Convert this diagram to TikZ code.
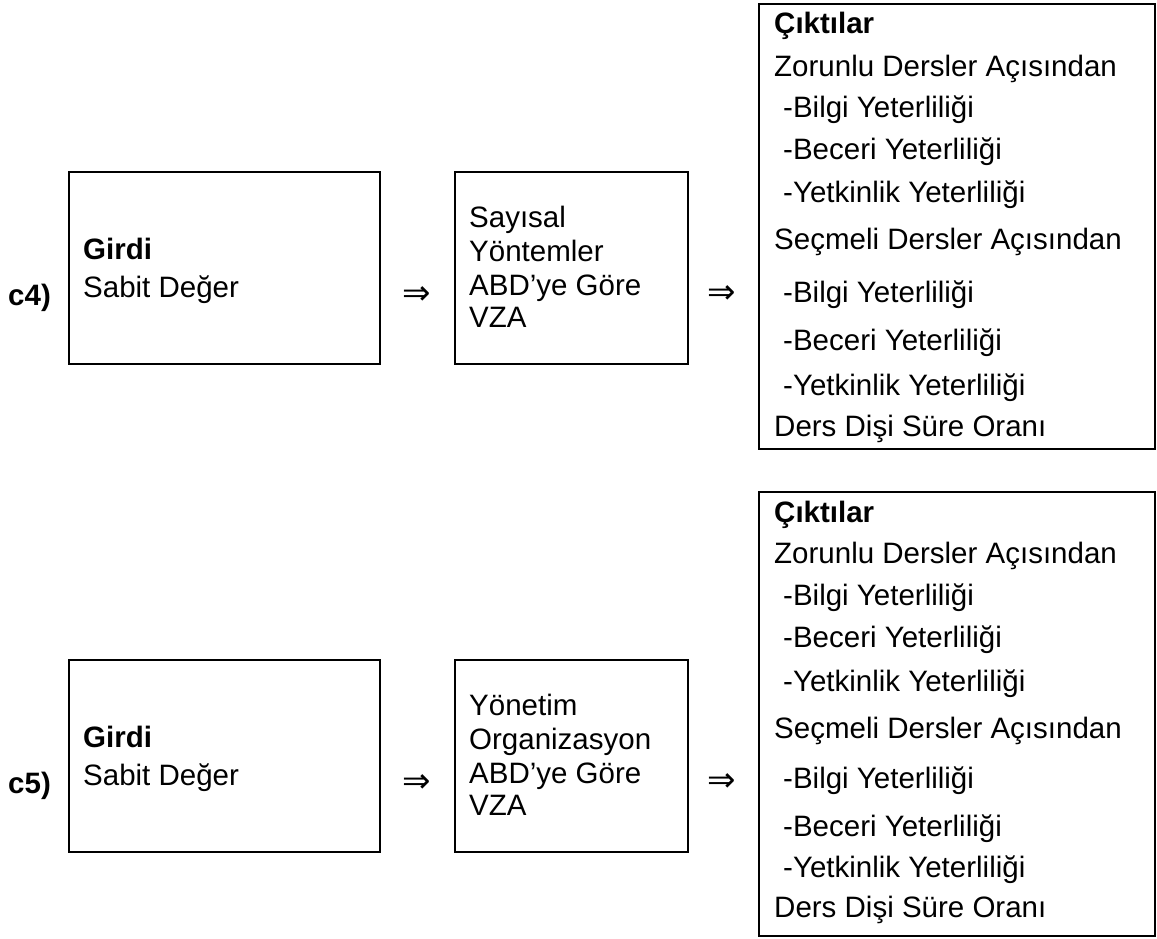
\documentclass[tikz,border=0pt]{standalone}
\usepackage{fontspec}
\setmainfont{Liberation Sans}
\newfontfamily\arrowfont{DejaVu Sans}
\begin{document}
\begin{tikzpicture}[x=1pt,y=-1pt,
  box/.style={draw, line width=2.2pt, inner sep=0pt, anchor=north west},
  txt/.style={anchor=base west, inner sep=0pt, font=\fontsize{29.5}{33}\selectfont},
  arr/.style={anchor=center, inner sep=0pt, font=\arrowfont\fontsize{34}{36}\selectfont}]
\useasboundingbox (0,0) rectangle (1157,938);

% ---------- c4 ----------
\node[box, minimum width=311pt, minimum height=192pt] (in4) at (68,171) {};
\node[txt] (c4) at (8,305) {\bfseries c4)};
\node[txt] (in4a) at (83,259) {\bfseries Girdi};
\node[txt] (in4b) at (83,297) {Sabit Değer};
\node[arr] (ar4a) at (417,296) {⇒};
\node[box, minimum width=233pt, minimum height=192pt] (mid4) at (454,171) {};
\node[txt] (mid4a) at (469,227) {Sayısal};
\node[txt] (mid4b) at (469,261) {Yöntemler};
\node[txt] (mid4c) at (469,295) {ABD’ye Göre};
\node[txt] (mid4d) at (469,327) {VZA};
\node[arr] (ar4b) at (722,295) {⇒};
\node[box, minimum width=396pt, minimum height=445pt] (out4) at (758,3) {};
\node[txt] (o4a) at (774,33) {\bfseries Çıktılar};
\node[txt] (o4b) at (774,76) {Zorunlu Dersler Açısından};
\node[txt] (o4c) at (783,117) {-Bilgi Yeterliliği};
\node[txt] (o4d) at (783,159) {-Beceri Yeterliliği};
\node[txt] (o4e) at (783,202) {-Yetkinlik Yeterliliği};
\node[txt] (o4f) at (774,249) {Seçmeli Dersler Açısından};
\node[txt] (o4g) at (783,302) {-Bilgi Yeterliliği};
\node[txt] (o4h) at (783,350) {-Beceri Yeterliliği};
\node[txt] (o4i) at (783,395) {-Yetkinlik Yeterliliği};
\node[txt] (o4j) at (774,436) {Ders Dişi Süre Oranı};

% ---------- c5 ----------
\node[box, minimum width=311pt, minimum height=192pt] (in5) at (68,659) {};
\node[txt] (c5) at (8,793) {\bfseries c5)};
\node[txt] (in5a) at (83,747) {\bfseries Girdi};
\node[txt] (in5b) at (83,785) {Sabit Değer};
\node[arr] (ar5a) at (417,784) {⇒};
\node[box, minimum width=233pt, minimum height=192pt] (mid5) at (454,659) {};
\node[txt] (mid5a) at (469,715) {Yönetim};
\node[txt] (mid5b) at (469,749) {Organizasyon};
\node[txt] (mid5c) at (469,783) {ABD’ye Göre};
\node[txt] (mid5d) at (469,815) {VZA};
\node[arr] (ar5b) at (722,783) {⇒};
\node[box, minimum width=396pt, minimum height=444pt] (out5) at (758,491) {};
\node[txt] (o5a) at (774,522) {\bfseries Çıktılar};
\node[txt] (o5b) at (774,563) {Zorunlu Dersler Açısından};
\node[txt] (o5c) at (783,605) {-Bilgi Yeterliliği};
\node[txt] (o5d) at (783,647) {-Beceri Yeterliliği};
\node[txt] (o5e) at (783,691) {-Yetkinlik Yeterliliği};
\node[txt] (o5f) at (774,738) {Seçmeli Dersler Açısından};
\node[txt] (o5g) at (783,788) {-Bilgi Yeterliliği};
\node[txt] (o5h) at (783,836) {-Beceri Yeterliliği};
\node[txt] (o5i) at (783,877) {-Yetkinlik Yeterliliği};
\node[txt] (o5j) at (774,917) {Ders Dişi Süre Oranı};
\end{tikzpicture}
\end{document}
